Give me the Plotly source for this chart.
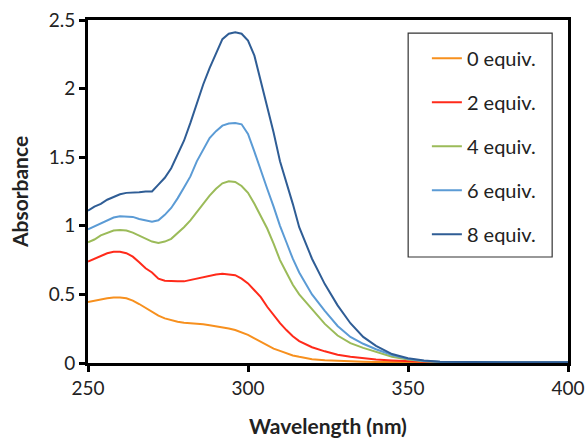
import plotly.graph_objects as go

# Wavelength grid (nm)
wavelength = [250, 252, 254, 256, 258, 260, 262, 264, 266, 268, 270, 272, 274, 276, 278,
              280, 282, 284, 286, 288, 290, 292, 294, 296, 298, 300, 302, 304, 306, 308,
              310, 312, 314, 316, 318, 320, 324, 328, 332, 336, 340, 345, 350, 355, 360,
              370, 380, 390, 400]

# Absorbance spectra for each titration step
abs_0 = [0.445, 0.455, 0.465, 0.472, 0.478, 0.478, 0.472, 0.455, 0.430, 0.400, 0.370, 0.345,
         0.325, 0.312, 0.300, 0.293, 0.290, 0.286, 0.282, 0.275, 0.268, 0.262, 0.252, 0.240,
         0.225, 0.205, 0.180, 0.155, 0.130, 0.105, 0.088, 0.072, 0.055, 0.045, 0.035, 0.028,
         0.020, 0.015, 0.012, 0.010, 0.008, 0.007, 0.006, 0.005, 0.005, 0.004, 0.004, 0.004,
         0.004]
abs_2 = [0.740, 0.760, 0.780, 0.800, 0.810, 0.810, 0.800, 0.775, 0.735, 0.690, 0.660, 0.615,
         0.600, 0.595, 0.595, 0.595, 0.605, 0.615, 0.630, 0.640, 0.645, 0.650, 0.645, 0.640,
         0.615, 0.580, 0.530, 0.480, 0.410, 0.350, 0.290, 0.240, 0.195, 0.160, 0.135, 0.115,
         0.085, 0.060, 0.045, 0.033, 0.025, 0.018, 0.012, 0.009, 0.007, 0.005, 0.005, 0.004,
         0.004]
abs_4 = [0.880, 0.900, 0.930, 0.950, 0.965, 0.970, 0.965, 0.950, 0.930, 0.905, 0.885, 0.875,
         0.885, 0.905, 0.945, 0.990, 1.040, 1.100, 1.160, 1.220, 1.270, 1.310, 1.325, 1.320,
         1.290, 1.240, 1.160, 1.070, 0.980, 0.870, 0.750, 0.660, 0.570, 0.500, 0.445, 0.390,
         0.285, 0.200, 0.145, 0.110, 0.080, 0.045, 0.025, 0.013, 0.008, 0.005, 0.005, 0.004,
         0.004]
abs_6 = [0.975, 0.995, 1.020, 1.040, 1.060, 1.070, 1.070, 1.065, 1.050, 1.040, 1.030, 1.040,
         1.080, 1.130, 1.200, 1.280, 1.360, 1.470, 1.560, 1.640, 1.690, 1.730, 1.745, 1.750,
         1.740, 1.670, 1.540, 1.400, 1.270, 1.140, 1.000, 0.880, 0.760, 0.660, 0.575, 0.500,
         0.380, 0.270, 0.190, 0.140, 0.100, 0.058, 0.030, 0.015, 0.009, 0.006, 0.005, 0.005,
         0.005]
abs_8 = [1.110, 1.140, 1.160, 1.190, 1.210, 1.230, 1.240, 1.240, 1.245, 1.250, 1.250, 1.300,
         1.350, 1.420, 1.520, 1.620, 1.750, 1.890, 2.030, 2.150, 2.260, 2.360, 2.400, 2.410,
         2.400, 2.350, 2.240, 2.060, 1.880, 1.680, 1.470, 1.320, 1.160, 0.990, 0.870, 0.760,
         0.575, 0.420, 0.290, 0.190, 0.125, 0.065, 0.035, 0.018, 0.010, 0.006, 0.005, 0.005,
         0.005]

series_names = ["0 equiv.", "2 equiv.", "4 equiv.", "6 equiv.", "8 equiv."]
series_values = [abs_0, abs_2, abs_4, abs_6, abs_8]
series_colors = ["#F7901E", "#FF2A1A", "#9BBB59", "#5B9BD5", "#2F5D95"]

x_ticks = [250, 300, 350, 400]
y_ticks = [0, 0.5, 1, 1.5, 2, 2.5]

FONT = "Lato, 'Open Sans', sans-serif"

fig = go.Figure()
for i, (name, vals, col) in enumerate(zip(series_names, series_values, series_colors)):
    fig.add_trace(go.Scatter(
        x=wavelength, y=vals, mode="lines", name=name,
        legendgroup=f"g{i}",
        line=dict(color=col, width=2),
    ))

# legend frame
fig.add_shape(type="rect", xref="paper", yref="paper",
              x0=0.667, x1=0.967, y0=0.309, y1=0.962,
              line=dict(color="#333333", width=1.2), fillcolor="white", layer="below")

fig.update_layout(
    template="none",
    width=587, height=438,
    margin=dict(l=88, r=19, t=20, b=75, autoexpand=False),
    paper_bgcolor="white", plot_bgcolor="white",
    font=dict(family=FONT, size=19, color="#222222"),
    showlegend=True,
    legend=dict(
        x=0.706, y=0.945, xanchor="left", yanchor="top",
        bgcolor="rgba(0,0,0,0)", borderwidth=0,
        tracegroupgap=15, font=dict(family=FONT, size=20, color="#222222"),
    ),
    xaxis=dict(
        range=[250, 400], tickvals=x_ticks, ticks="outside", ticklen=6, tickwidth=3,
        tickcolor="black", showline=True, linecolor="black", linewidth=3, mirror=True,
        showgrid=False, zeroline=False, automargin=False,
        title=dict(text="<b>Wavelength (nm)</b>", font=dict(family=FONT, size=21), standoff=24),
        tickfont=dict(family=FONT, size=19),
    ),
    yaxis=dict(
        range=[0, 2.5], tickvals=y_ticks, ticks="outside", ticklen=6, tickwidth=3,
        tickcolor="black", showline=True, linecolor="black", linewidth=3, mirror=True,
        showgrid=False, zeroline=False, automargin=False,
        title=dict(text="<b>Absorbance</b>", font=dict(family=FONT, size=21), standoff=15),
        tickfont=dict(family=FONT, size=19),
    ),
)

fig.write_html("out.html")
